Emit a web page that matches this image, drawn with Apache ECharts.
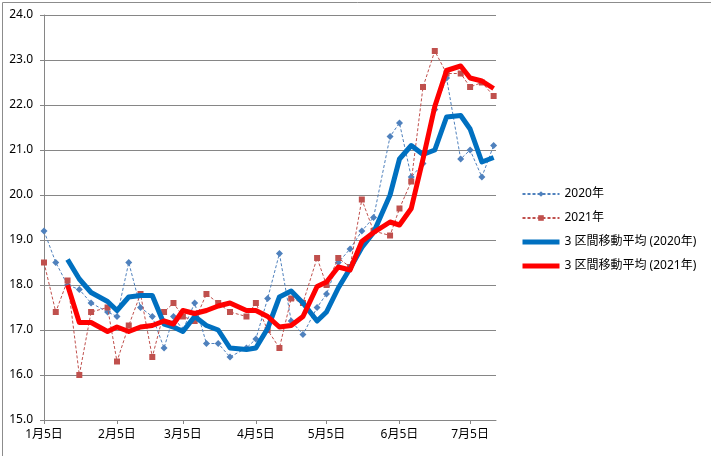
<!DOCTYPE html>
<html>
<head>
<meta charset="utf-8">
<script src="https://cdn.jsdelivr.net/npm/echarts@6/dist/echarts.min.js"></script>
<style>
html,body{margin:0;padding:0;background:#fff;}
#chart{width:711px;height:456px;}
</style>
</head>
<body>
<div id="chart"></div>
<script>
// ---- data ----
const dates = ['1/5','1/10','1/15','1/20','1/25','2/1','2/5','2/10','2/15','2/20','2/25','3/1',
  '3/5','3/10','3/15','3/20','3/25','4/1','4/5','4/10','4/15','4/20','4/25','5/1',
  '5/5','5/10','5/15','5/20','5/25','6/1','6/5','6/10','6/15','6/20','6/25','7/1',
  '7/5','7/10','7/15'];
const values2020 = [19.2,18.5,18.0,17.9,17.6,17.4,17.3,18.5,17.5,17.3,16.6,17.3,
  17.0,17.6,16.7,16.7,16.4,16.6,16.8,17.7,18.7,17.2,16.9,17.5,
  17.8,18.5,18.8,19.2,19.5,21.3,21.6,20.4,20.7,21.9,22.6,20.8,
  21.0,20.4,21.1];
const values2021 = [18.5,17.4,18.1,16.0,17.4,17.5,16.3,17.1,17.8,16.4,17.4,17.6,
  17.3,17.2,17.8,17.6,17.4,17.3,17.6,17.0,16.6,17.7,17.6,18.6,
  18.0,18.6,18.4,19.9,19.2,19.1,19.7,20.3,22.4,23.2,22.7,22.7,
  22.4,22.5,22.2];
const xTickDates = ['1/5','2/5','3/5','4/5','5/5','6/5','7/5'];
const xTickLabels = ['1月5日','2月5日','3月5日','4月5日','5月5日','6月5日','7月5日'];
const xRange = ['1/5','7/16'];
const seriesNames = ['2020年','2021年','3 区間移動平均 (2020年)','3 区間移動平均 (2021年)'];
const maPeriod = 3;

// ---- helpers ----
const YEAR = 2021;
const DAY = 86400000;
// day number counted from the first date (date axis, 2021 calendar)
function toDay(s){ const p = s.split('/').map(Number); return Math.round((Date.UTC(YEAR, p[0]-1, p[1]) - Date.UTC(YEAR, 0, 5)) / DAY); }
const days = dates.map(toDay);
const tickDays = xTickDates.map(toDay);
function pairs(vals){ return vals.map((v,i)=>[days[i], v]); }
// Excel-style moving average trendline (period 3) of the plotted data
function movingAvg(vals, n){
  const out = [];
  for (let i = n-1; i < vals.length; i++){
    let s = 0; for (let k = i-n+1; k <= i; k++) s += vals[k];
    out.push([days[i], s/n]);
  }
  return out;
}

const FONT = "'Noto Sans', 'Noto Sans CJK JP', sans-serif";
const chart = echarts.init(document.getElementById('chart'), null, {renderer:'canvas'});
chart.setOption({
  animation: false,
  backgroundColor: '#ffffff',
  textStyle: {fontFamily: FONT},
  grid: {left: 44, right: 215, top: 15, bottom: 36, containLabel: false},
  graphic: [{
    type: 'rect', left: 0, top: 0, silent: true,
    shape: {x: 0.5, y: 0.5, width: 710, height: 455},
    style: {fill: 'none', stroke: '#8c8c8c', lineWidth: 1}
  }],
  legend: {
    orient: 'vertical', left: 515, top: 182,
    itemWidth: 37, itemHeight: 7, itemGap: 10,
    textStyle: {fontFamily: FONT, fontSize: 12, color: '#000', lineHeight: 14},
    data: [
      {name: seriesNames[0]},
      {name: seriesNames[1]},
      {name: seriesNames[2], lineStyle: {width: 5},
        itemStyle: {color: 'transparent', borderColor: 'transparent', borderWidth: 0}},
      {name: seriesNames[3], lineStyle: {width: 5},
        itemStyle: {color: 'transparent', borderColor: 'transparent', borderWidth: 0}}
    ]
  },
  xAxis: {
    type: 'value',
    min: toDay(xRange[0]), max: toDay(xRange[1]),
    axisLine: {show: true, lineStyle: {color: '#868686', width: 1}},
    axisTick: {show: true, length: 4, inside: false, customValues: tickDays,
      lineStyle: {color: '#868686'}},
    axisLabel: {customValues: tickDays, margin: 9, fontSize: 12, color: '#000', fontFamily: FONT,
      formatter: function(v){ const i = tickDays.indexOf(v); return i >= 0 ? xTickLabels[i] : ''; }},
    splitLine: {show: false}
  },
  yAxis: {
    type: 'value', min: 15, max: 24, interval: 1,
    axisLine: {show: true, lineStyle: {color: '#868686', width: 1}},
    axisTick: {show: true, length: 4, lineStyle: {color: '#868686'}},
    axisLabel: {margin: 11, fontSize: 12, color: '#000', fontFamily: FONT,
      formatter: function(v){ return v.toFixed(1); }},
    splitLine: {show: true, lineStyle: {color: '#868686', width: 1}}
  },
  series: [
    {
      name: seriesNames[0], type: 'line', data: pairs(values2020),
      symbol: 'diamond', symbolSize: 7, showSymbol: true,
      lineStyle: {color: '#4F81BD', width: 1, type: [3, 2]},
      itemStyle: {color: '#4F81BD'}, z: 2
    },
    {
      name: seriesNames[1], type: 'line', data: pairs(values2021),
      symbol: 'rect', symbolSize: 6, showSymbol: true,
      lineStyle: {color: '#C0504D', width: 1, type: [3, 2]},
      itemStyle: {color: '#C0504D'}, z: 3
    },
    {
      name: seriesNames[2], type: 'line', data: movingAvg(values2020, maPeriod),
      symbol: 'none', showSymbol: false,
      lineStyle: {color: '#0070C0', width: 5, join: 'round'},
      itemStyle: {color: '#0070C0'}, z: 4
    },
    {
      name: seriesNames[3], type: 'line', data: movingAvg(values2021, maPeriod),
      symbol: 'none', showSymbol: false,
      lineStyle: {color: '#FF0000', width: 5, join: 'round'},
      itemStyle: {color: '#FF0000'}, z: 5
    }
  ]
});
</script>
</body>
</html>
